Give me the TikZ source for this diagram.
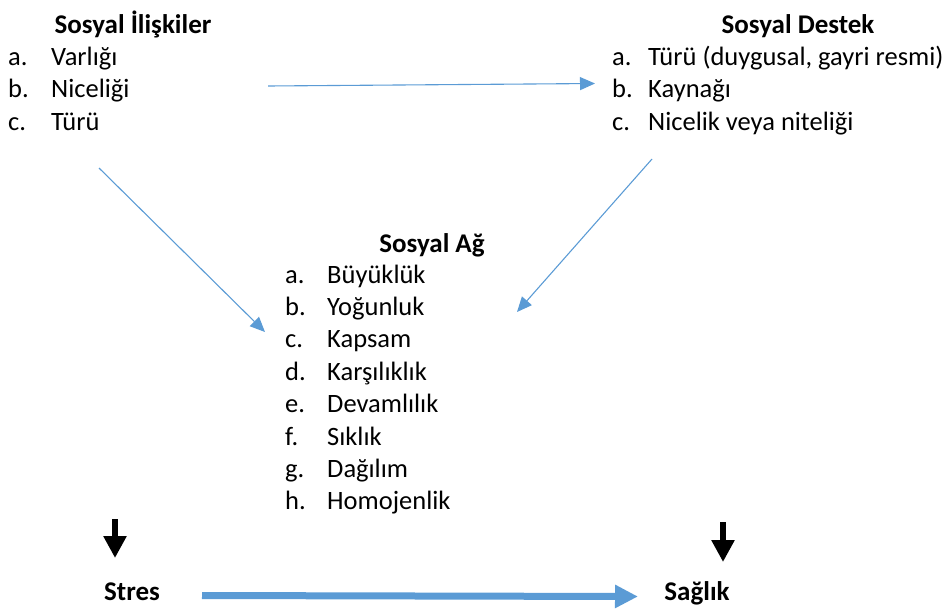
\documentclass[tikz,border=0pt]{standalone}
\usepackage{fontspec}
\setmainfont{Carlito}
\usetikzlibrary{arrows.meta}
\definecolor{officeblue}{HTML}{5B9BD5}
\tikzset{
  txt/.style={inner sep=0pt, anchor=base west, font=\fontsize{26.5}{30}\selectfont},
  ttl/.style={inner sep=0pt, anchor=base, font=\fontsize{27}{30}\selectfont\bfseries},
  thinarrow/.style={draw=officeblue, line width=1.1pt, -{Triangle[length=15pt,width=13pt]}, color=officeblue},
  thickarrow/.style={draw=officeblue, line width=7pt, -{Triangle[length=23pt,width=22pt]}, color=officeblue},
  blackarrow/.style={draw=black, line width=6pt, -{Triangle[length=22pt,width=22pt]}}
}
\begin{document}
\begin{tikzpicture}[x=1pt,y=-1pt]
\useasboundingbox (0,0) rectangle (949,608);
% Sosyal Ilişkiler
\node[ttl] (siT) at (133,33) {Sosyal İlişkiler};
\node[txt] (siA1) at (8,65) {a.};
\node[txt] (siA2) at (51,65) {Varlığı};
\node[txt] (siB1) at (8,97.5) {b.};
\node[txt] (siB2) at (51,97.5) {Niceliği};
\node[txt] (siC1) at (8,130) {c.};
\node[txt] (siC2) at (51,130) {Türü};
% Sosyal Destek
\node[ttl] (sdT) at (798,33) {Sosyal Destek};
\node[txt] (sdA1) at (612,65) {a.};
\node[txt] (sdA2) at (648,65) {Türü (duygusal, gayri resmi)};
\node[txt] (sdB1) at (612,97.5) {b.};
\node[txt] (sdB2) at (648,97.5) {Kaynağı};
\node[txt] (sdC1) at (612,130) {c.};
\node[txt] (sdC2) at (648,130) {Nicelik veya niteliği};
% Sosyal Ağ
\node[ttl] (saT) at (432,252) {Sosyal Ağ};
\foreach \l/\t [count=\i from 0] in {a./Büyüklük,b./Yoğunluk,c./Kapsam,d./Karşılıklık,e./Devamlılık,f./Sıklık,g./Dağılım,h./Homojenlik}{
  \node[txt] (saL\i) at (285,{283+32.4*\i}) {\l};
  \node[txt] (saI\i) at (327,{283+32.4*\i}) {\t};
}
% Stres / Sağlık
\node[ttl] (stres) at (132,600) {Stres};
\node[ttl] (saglik) at (697,600) {Sağlık};
% connector end points
\coordinate (h1) at (268,86);
\coordinate (h2) at (595,83.5);
\coordinate (d1s) at (99,168);
\coordinate (d1e) at (265,332);
\coordinate (d2s) at (652,159);
\coordinate (d2e) at (517,312);
\coordinate (b1s) at (115,519);
\coordinate (b1e) at (115,558);
\coordinate (b2s) at (723,522);
\coordinate (b2e) at (723,562);
\coordinate (t1) at (202,595.5);
\coordinate (t2) at (638,596.5);
\draw[thinarrow] (h1) -- (h2);
\draw[thinarrow] (d1s) -- (d1e);
\draw[thinarrow] (d2s) -- (d2e);
\draw[blackarrow] (b1s) -- (b1e);
\draw[blackarrow] (b2s) -- (b2e);
\draw[thickarrow] (t1) -- (t2);
\end{tikzpicture}
\end{document}
